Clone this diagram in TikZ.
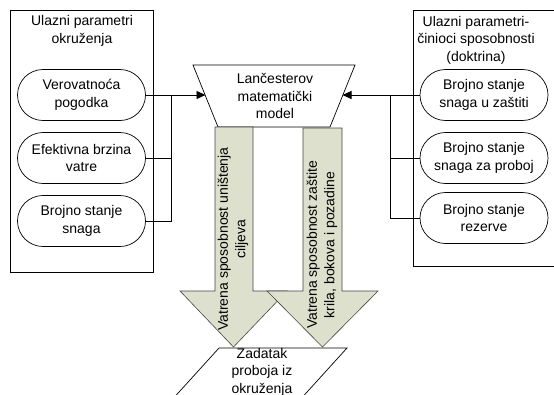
\documentclass[tikz,border=0pt]{standalone}
\usepackage{fontspec}
\setmainfont{Liberation Sans}
\usetikzlibrary{arrows.meta,shapes.misc}
\definecolor{arrfill}{RGB}{221,224,204}
\definecolor{arredge}{RGB}{70,70,70}
\begin{document}
\begin{tikzpicture}[x=1pt,y=-1pt,
  font=\fontsize{14}{17.5}\selectfont,
  every node/.style={inner sep=0pt, align=center},
  stad/.style={draw, line width=0.7pt, rounded rectangle, minimum width=128pt, minimum height=51pt},
  frame/.style={draw, line width=0.7pt},
  conn/.style={line width=0.7pt},
  arr/.style={conn, -{Triangle[length=9pt,width=8pt]}},
  bigarrow/.style={fill=arrfill, draw=arredge, line width=0.6pt, line join=miter}]
\useasboundingbox (0,0) rectangle (554,394);
\clip (0,0) rectangle (554,394);
\fill[white] (0,0) rectangle (554,394);

% left group
\draw[frame] (10,10) rectangle (153,272);
\node (lt) at (82,31) {Ulazni parametri\\okruženja};
\node[stad] (l1) at (81.5,95) {Verovatnoća\\pogodka};
\node[stad] (l2) at (81.5,158) {Efektivna brzina\\vatre};
\node[stad] (l3) at (81.5,221) {Brojno stanje\\snaga};

% right group
\draw[frame] (413,10) rectangle (570,266);
\node (rt) at (476,40) {Ulazni parametri-\\činioci sposobnosti\\(doktrina)};
\node[stad] (r1) at (484,95) {Brojno stanje\\snaga u zaštiti};
\node[stad] (r2) at (484,158) {Brojno stanje\\snaga za proboj};
\node[stad] (r3) at (484,218) {Brojno stanje\\rezerve};

% central trapezoid
\draw[frame, fill=white] (193,65) -- (355,65) -- (330,127) -- (218,127) -- cycle;
\node (tm) at (275,96) {Lančesterov\\matematički\\model};
\coordinate (tl) at (205.5,95);
\coordinate (tr) at (342.5,95);

% connectors
\coordinate (jl) at (171,95);
\coordinate (jr) at (390,95);
\draw[conn] (l2.east) -- (l2.east -| jl);
\draw[conn] (l3.east) -| (jl);
\draw[conn] (l1.east) -- (jl);
\draw[arr] (jl) -- (tl);
\draw[conn] (r2.west) -- (r2.west -| jr);
\draw[conn] (r3.west) -| (jr);
\draw[conn] (r1.west) -- (jr);
\draw[arr] (jr) -- (tr);

% big arrows
\draw[bigarrow] (215,127) -- (253,127) -- (253,291) -- (287,291) -- (233.5,347) -- (180,291) -- (215,291) -- cycle;
\node[rotate=90] (a1) at (233,239) {Vatrena sposobnost uništenja\\ciljeva};
\draw[bigarrow] (303,128) -- (342,128) -- (342,291) -- (378,291) -- (322.5,347) -- (267,291) -- (303,291) -- cycle;
\node[rotate=90] (a2) at (322,245) {Vatrena sposobnost zaštite\\krila, bokova i pozadine};

% bottom parallelogram
\draw[frame, fill=white] (219,348) -- (347,348) -- (298,402) -- (170,402) -- cycle;
\node[anchor=north] (zt) at (262,348) {Zadatak\\proboja iz\\okruženja};
\end{tikzpicture}
\end{document}
